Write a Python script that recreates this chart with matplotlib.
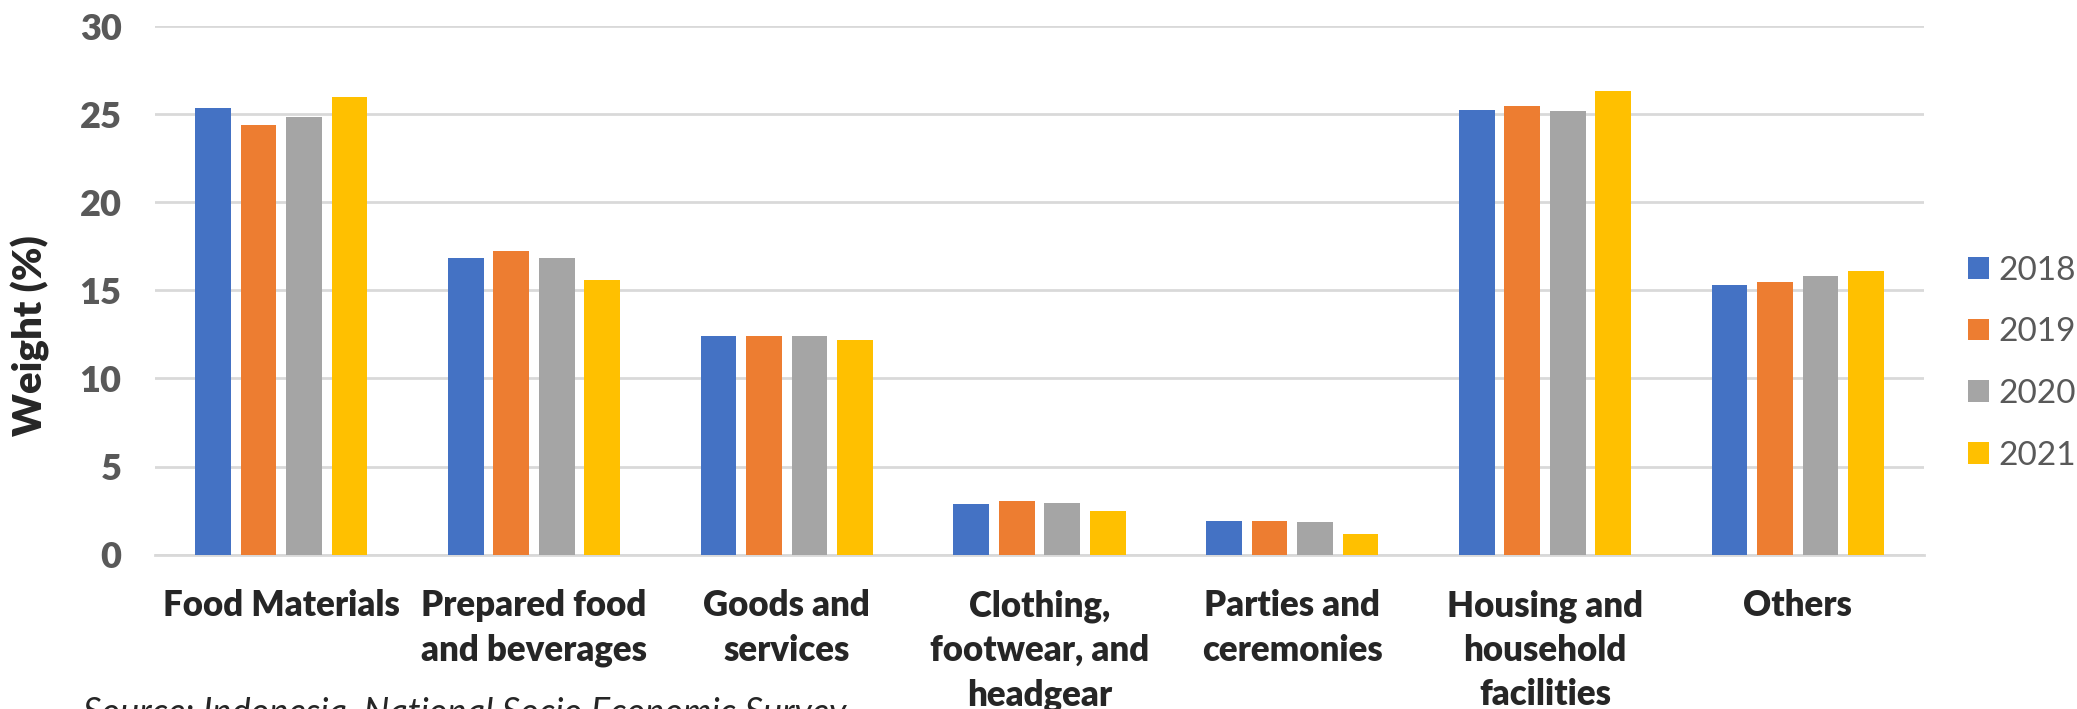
import numpy as np
import matplotlib
matplotlib.use('Agg')
import matplotlib.pyplot as plt

plt.rcParams['font.family'] = ['Lato', 'DejaVu Sans']

categories = ['Food Materials', 'Prepared food\nand beverages', 'Goods and\nservices',
              'Clothing,\nfootwear, and\nheadgear', 'Parties and\nceremonies',
              'Housing and\nhousehold\nfacilities', 'Others']
years = ['2018', '2019', '2020', '2021']
w2018 = [25.34, 16.83, 12.40, 2.90, 1.93, 25.27, 15.29]
w2019 = [24.37, 17.25, 12.40, 3.02, 1.89, 25.46, 15.50]
w2020 = [24.85, 16.87, 12.40, 2.92, 1.87, 25.19, 15.82]
w2021 = [26.01, 15.61, 12.16, 2.48, 1.18, 26.32, 16.09]
series = [w2018, w2019, w2020, w2021]
colores = ['#4472C4', '#ED7D31', '#A5A5A5', '#FFC000']

fig = plt.figure(figsize=(20.77, 7.09), dpi=100)
ax = fig.add_axes([0.0746, 0.2178, 0.8518, 0.7451])

x = np.arange(len(categories))
ancho = 0.141
paso = 0.180
for i, (vals, col, anio) in enumerate(zip(series, colores, years)):
    ax.bar(x + (i - 1.5) * paso, vals, ancho, color=col, label=anio, zorder=3)

ax.set_xlim(-0.5, len(categories) - 0.5)
ax.set_ylim(0, 30)
ax.set_yticks(range(0, 31, 5))
ax.grid(axis='y', color='#D9D9D9', linewidth=2, zorder=0)
for s in ['top', 'right', 'left']:
    ax.spines[s].set_visible(False)
ax.spines['bottom'].set_color('#D9D9D9')
ax.spines['bottom'].set_linewidth(2)
ax.tick_params(axis='both', length=0)
ax.tick_params(axis='y', pad=24, labelsize=26, labelcolor='#595959')
ax.tick_params(axis='x', pad=25, labelsize=25, labelcolor='#262626')
for t in ax.get_yticklabels():
    t.set_fontweight('heavy')
ax.set_xticks(x)
ax.set_xticklabels(categories, fontweight='heavy', linespacing=1.42)

# etiqueta del eje y
fig.text(30 / 2077, 0.527, 'Weight (%)', rotation=90, ha='center', va='center',
         fontsize=29, fontweight='heavy', color='#262626')

fig.legend(loc='center left', bbox_to_anchor=(0.9475, 0.488), frameon=False,
           fontsize=24, handlelength=0.62, handleheight=0.62, handletextpad=0.3,
           labelspacing=0.95, borderpad=0, borderaxespad=0, labelcolor='#595959')

fig.text(83 / 2077, 1 - 697 / 709, 'Source: Indonesia, National Socio Economic Survey',
         ha='left', va='top', fontsize=26, style='italic', color='#262626')

fig.savefig('out.png', dpi=100)
